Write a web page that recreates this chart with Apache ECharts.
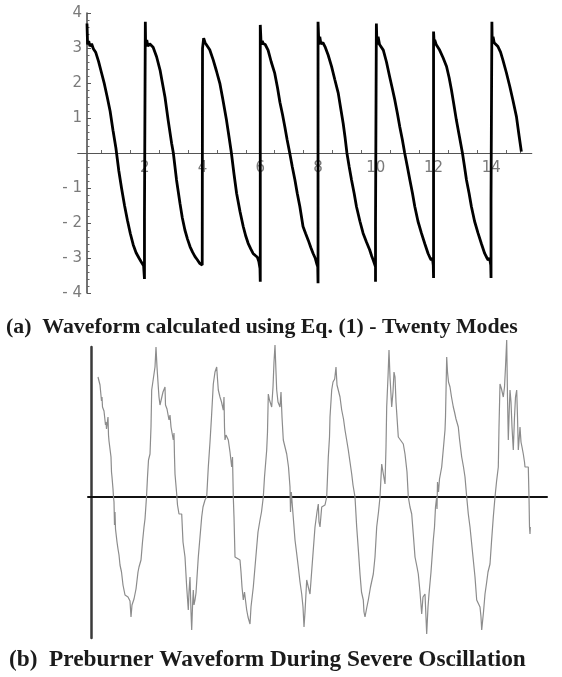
<!DOCTYPE html>
<html>
<head>
<meta charset="utf-8">
<script src="https://cdn.jsdelivr.net/npm/echarts@6/dist/echarts.min.js"></script>
<style>
html,body{margin:0;padding:0;background:#fff;}
#chart{width:562px;height:677px;}
</style>
</head>
<body>
<div id="chart"></div>
<script>
// ---- Panel (a): Twenty-mode waveform, [time, amplitude] ----
const waveA = [
  [0,3.7],[0.02,3.1],[0.06,3.2],[0.1,3.05],[0.16,3.12],[0.22,2.98],[0.3,2.88],[0.4,2.62],[0.5,2.3],[0.6,1.98],[0.7,1.6],[0.8,1.2],[0.9,0.65],[1.0,0.15],[1.1,-0.5],[1.2,-1.02],[1.3,-1.5],[1.4,-1.92],[1.5,-2.3],[1.6,-2.62],[1.7,-2.85],[1.8,-3.0],[1.87,-3.1],[1.92,-3.05],[1.96,-3.22],[1.99,-3.6],[1.99,-1.85],[2.02,-1.85],[2.02,3.75],
  [2.03,3.1],[2.07,3.23],[2.11,3.05],[2.17,3.12],[2.29,3.02],[2.41,2.75],[2.53,2.37],[2.6,2.05],[2.7,1.6],[2.81,0.94],[2.93,0.28],[2.99,0.0],[3.1,-0.77],[3.22,-1.44],[3.3,-1.85],[3.39,-2.2],[3.48,-2.46],[3.57,-2.68],[3.66,-2.84],[3.74,-2.96],[3.82,-3.05],[3.9,-3.15],[3.95,-3.1],[3.99,-3.2],
  [4.0,2.99],[4.04,3.28],[4.09,3.15],[4.14,3.13],[4.25,2.95],[4.37,2.66],[4.48,2.35],[4.6,1.99],[4.7,1.55],[4.83,0.94],[4.92,0.45],[5.0,0.0],[5.09,-0.6],[5.18,-1.15],[5.3,-1.68],[5.41,-2.1],[5.5,-2.38],[5.58,-2.58],[5.67,-2.74],[5.75,-2.87],[5.83,-2.93],[5.9,-2.98],[5.95,-3.1],[5.99,-3.3],[6.0,-3.68],[6.0,3.66],
  [6.03,3.1],[6.07,3.2],[6.1,3.13],[6.17,3.1],[6.27,2.94],[6.38,2.6],[6.5,2.28],[6.6,1.85],[6.68,1.45],[6.77,1.1],[6.85,0.75],[6.93,0.38],[7.02,0.0],[7.11,-0.4],[7.2,-0.77],[7.28,-1.15],[7.37,-1.53],[7.48,-2.1],[7.57,-2.3],[7.66,-2.49],[7.75,-2.7],[7.83,-2.87],[7.9,-3.0],[7.95,-3.15],[7.99,-3.25],[8.0,-3.72],[8.0,3.75],
  [8.03,3.1],[8.06,3.32],[8.1,3.12],[8.17,3.15],[8.24,3.04],[8.35,2.8],[8.47,2.47],[8.58,2.1],[8.7,1.71],[8.79,1.25],[8.87,0.85],[8.94,0.42],[9.0,0.0],[9.08,-0.4],[9.16,-0.77],[9.25,-1.15],[9.33,-1.53],[9.45,-1.95],[9.56,-2.29],[9.68,-2.55],[9.79,-2.77],[9.86,-2.95],[9.91,-3.06],[9.96,-3.1],[9.99,-3.25],[9.99,-3.68],[9.99,-2.1],[10.02,-2.1],[10.02,3.7],
  [10.04,3.1],[10.08,3.32],[10.13,3.1],[10.19,3.12],[10.26,2.94],[10.37,2.6],[10.48,2.18],[10.57,1.85],[10.66,1.51],[10.75,1.12],[10.83,0.75],[10.92,0.38],[11.0,0.0],[11.09,-0.38],[11.18,-0.77],[11.27,-1.15],[11.35,-1.53],[11.46,-1.95],[11.58,-2.29],[11.7,-2.6],[11.81,-2.87],[11.88,-3.0],[11.92,-3.06],[11.96,-3.0],[11.99,-3.2],[12.0,-3.57],[12.0,3.47],
  [12.02,3.15],[12.04,3.23],[12.09,3.1],[12.14,3.12],[12.21,2.94],[12.33,2.72],[12.45,2.47],[12.54,2.15],[12.62,1.8],[12.7,1.4],[12.79,0.94],[12.9,0.45],[13.0,0.0],[13.07,-0.38],[13.14,-0.77],[13.23,-1.15],[13.31,-1.53],[13.42,-1.95],[13.54,-2.29],[13.66,-2.6],[13.77,-2.87],[13.85,-3.0],[13.89,-3.06],[13.94,-3.0],[13.98,-3.2],[13.99,-3.57],[13.99,-1.34],[14.02,-1.34],[14.02,3.75],
  [14.03,3.15],[14.06,3.32],[14.1,3.15],[14.16,3.12],[14.23,3.04],[14.32,2.88],[14.4,2.66],[14.52,2.3],[14.64,1.9],[14.75,1.5],[14.87,1.04],[14.96,0.5],[15.04,0.04]
];
const xLabelValues = [2,4,6,8,10,12,14];
const xTickValues = [0.5,1,1.5,2,2.5,3,3.5,4,4.5,5,5.5,6,6.5,7,7.5,8,8.5,9,9.5,10,10.5,11,11.5,12,12.5,13,13.5,14,14.5,15];

// ---- Panel (b): measured preburner waveform, [time, pressure] (arbitrary units) ----
const waveB = [
  [7,120],[8,118],[9,112],[10,113],[10.5,96],[11,100],[11.5,90],[12.5,88],[13,86],[14,87],[14.5,72],[15,75],[15.5,68],[16.5,66],[17,80],[17.5,62],[18,56],[19,58],[20,40],[20.5,25],[21,20],[22,8],[22.5,0],[23,-5],[23.5,-28],[24,-15],[24.5,-32],[26,-45],[27,-52],[28,-58],[29,-68],[30.5,-75],[32,-88],[34,-98],[37,-100],[39,-104],[40,-120],[41,-108],[43,-102],[44,-100],[45,-92],[47,-75],[48,-70],[50,-63],[51.5,-45],[53,-30],[54,-22],[55.5,0],[56.5,20],[57.5,37],[59,43],[60,70],[60.7,107],[62.3,107],[64,130],[65,150],[66,130],[67.3,110],[68,100],[69,92],[70.7,90],[72,105],[74,110],[74.5,92],[76,88],[78,77],[79,82],[80,70],[82.3,57],[83,64],[83.5,40],[84,23],[85.7,3],[86.5,-8],[88,-17],[90.7,-17],[92,-45],[94,-60],[95.7,-90],[97.3,-113],[98,-95],[99,-80],[100,-115],[100.7,-133],[101.5,-110],[102.3,-93],[103,-108],[104,-103],[105,-96],[107.3,-60],[109,-40],[110.7,-20],[112,-10],[114,-3],
  [115.7,0],[116.5,15],[117.3,30],[119,55],[120.5,80],[122.3,113],[124,125],[125.7,130],[126.5,118],[127.3,107],[129,100],[130.5,95],[132.3,87],[133,100],[133.5,70],[134,57],[135,62],[137.3,57],[139,45],[140.7,30],[141.5,40],[142.3,0],[143,-20],[144,-60],[146,-60],[149,-63],[150,-75],[151,-90],[152.3,-103],[153.5,-95],[155.7,-113],[157,-120],[159,-127],[160,-110],[162.3,-90],[164,-70],[165.7,-50],[167,-35],[169,-23],[170.5,-15],[172.3,0],[173.5,20],[175.7,47],[176.5,65],[177.3,103],[178.5,97],[180.7,90],[182,110],[183,135],[184,152],[185,125],[185.7,107],[187,95],[189,90],[190,105],[191,80],[192.3,57],[194,50],[195.7,43],[197.5,30],[199,10],[199.5,-15],[200.3,5],[200.7,0],[202,-17],[204,-43],[205.5,-55],[207.3,-70],[209,-85],[210.7,-97],[212,-110],[213,-130],[214,-115],[215.7,-83],[217.3,-90],[219,-97],[221,-70],[222.5,-50],[224,-30],[226,-15],[227.3,-7],
  [228,-25],[229,-30],[230.7,-10],[232,-12],[234,-8],[235.7,0],[236.5,20],[237.3,40],[238.5,60],[239,80],[240.7,107],[242,115],[243.7,118],[245,130],[246,112],[247.3,113],[249,100],[250.7,87],[252.5,78],[254,67],[255.5,58],[257.3,47],[259,35],[260.7,23],[262,12],[264,0],[265.7,-30],[267.5,-55],[269,-77],[270.5,-95],[272.3,-103],[273,-115],[274,-120],[275.5,-112],[277.3,-103],[279.5,-90],[282.3,-77],[284,-60],[285.7,-30],[287.5,-15],[289,0],[290.7,33],[292,25],[294,13],[295,50],[295.7,90],[297,120],[298,147],[299,120],[300.7,90],[302,105],[303,125],[304,120],[305,95],[307.3,60],[309,60],[312.3,53],[314,43],[316,25],[317.3,0],[319,-10],[320.7,-17],[322.5,-40],[324,-60],[326,-70],[327.3,-77],[329,-95],[330.7,-117],[332,-100],[334,-97],[335.7,-137],[337,-110],[338,-97],[340,-75],[342.3,-43],
  [343.5,-30],[344.5,-10],[345.7,0],[346,-12],[346.5,15],[347.5,5],[348.5,18],[350.7,30],[352.5,50],[354,67],[354.5,80],[355.7,140],[356.5,125],[357.5,115],[359,110],[360.5,100],[362.3,90],[363.5,85],[365,78],[367.3,70],[368.5,58],[370.7,40],[372.5,30],[374,20],[375.7,0],[377.3,-17],[379,-30],[380.5,-45],[382.3,-63],[384,-80],[385.7,-103],[387.5,-105],[389,-110],[390,-120],[390.7,-133],[392.5,-115],[394,-97],[395.7,-85],[397,-75],[399,-67],[400.5,-45],[402.3,-20],[404,0],[405.5,15],[407.3,30],[408,70],[409,113],[410.5,108],[412.3,100],[413.5,110],[414.5,130],[415.7,157],[416.5,100],[417.3,57],[418.2,85],[419,107],[420,95],[421,70],[422.3,47],[423.5,80],[424.5,100],[425.7,107],[426.5,80],[427.3,47],[428.3,60],[429,70],[430,55],[431,50],[432.3,43],[433.5,35],[434,30],[436,30],[437.3,30],[438,0],[438.5,-30],[439,-37],[439.3,-30]
];

const captionA = '(a)  Waveform calculated using Eq. (1) - Twenty Modes';
const captionB = '(b)  Preburner Waveform During Severe Oscillation';

const chart = echarts.init(document.getElementById('chart'), null, {renderer: 'canvas'});
const labelColor = '#7a7a7a';
const option = {
  animation: false,
  backgroundColor: '#ffffff',
  title: [
    {text: captionA, left: 1, top: 311,
     textStyle: {fontFamily: 'Liberation Serif', fontWeight: 'bold', fontSize: 21.8, color: '#1b1b1b'}},
    {text: captionB, left: 4, top: 643,
     textStyle: {fontFamily: 'Liberation Serif', fontWeight: 'bold', fontSize: 23.3, color: '#1b1b1b'}}
  ],
  grid: [
    {left: 77.75, top: 13, width: 454, height: 280, containLabel: false},
    {left: 88, top: 347, width: 459, height: 291, containLabel: false}
  ],
  xAxis: [
    {gridIndex: 0, type: 'value', min: -0.32, max: 15.4, position: 'bottom', offset: -140,
     axisLine: {onZero: false, lineStyle: {color: '#555', width: 1.2}},
     axisTick: {show: true, inside: true, length: 3, customValues: xTickValues, lineStyle: {color: '#666'}},
     axisLabel: {show: true, customValues: xLabelValues, color: labelColor, fontSize: 15,
                 fontFamily: 'DejaVu Sans', margin: 8},
     splitLine: {show: false}},
    {gridIndex: 1, type: 'value', min: -3, max: 456,
     axisLine: {onZero: true, lineStyle: {color: '#111', width: 2}},
     axisTick: {show: false}, axisLabel: {show: false}, splitLine: {show: false}}
  ],
  yAxis: [
    {gridIndex: 0, type: 'value', min: -4, max: 4, interval: 1, position: 'left', offset: -9.25,
     axisLine: {onZero: false, lineStyle: {color: '#444', width: 1.5}},
     axisTick: {show: true, inside: true, length: 4, lineStyle: {color: '#555'}},
     minorTick: {show: true, splitNumber: 5, length: 2.5, lineStyle: {color: '#666'}},
     axisLabel: {color: labelColor, fontSize: 15, fontFamily: 'DejaVu Sans', margin: 5,
                 formatter: function (v) { if (v === 0) return ''; return v < 0 ? '- ' + (-v) : String(v); }},
     splitLine: {show: false}, minorSplitLine: {show: false}},
    {gridIndex: 1, type: 'value', min: -141, max: 150,
     axisLine: {onZero: true, lineStyle: {color: '#3a3a3a', width: 2.5}},
     axisTick: {show: false}, axisLabel: {show: false}, splitLine: {show: false}}
  ],
  series: [
    {type: 'line', xAxisIndex: 0, yAxisIndex: 0, data: waveA, showSymbol: false,
     lineStyle: {color: '#000', width: 2.8}, clip: false, z: 3},
    {type: 'line', xAxisIndex: 1, yAxisIndex: 1, data: waveB, showSymbol: false,
     lineStyle: {color: '#8c8c8c', width: 1.2}, clip: false, z: 1}
  ]
};
chart.setOption(option);
</script>
</body>
</html>
